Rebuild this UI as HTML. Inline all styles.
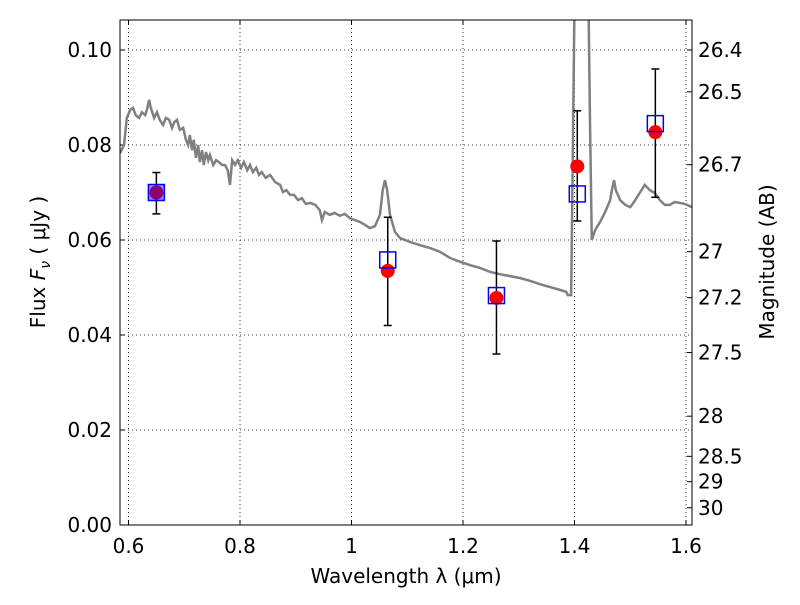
<!DOCTYPE html>
<html><head><meta charset="utf-8"><style>
body{margin:0;background:#fff}
svg text{font-family:"DejaVu Sans","Liberation Sans",sans-serif;fill:#000}
</style></head><body>
<svg id="chart" width="800" height="600" xmlns="http://www.w3.org/2000/svg"></svg>
<script>
const xTicks=[0.6,0.8,1.0,1.2,1.4,1.6];
const xTickLabels=["0.6","0.8","1","1.2","1.4","1.6"];
const yTicks=[0,0.02,0.04,0.06,0.08,0.10];
const yTickLabels=["0.00","0.02","0.04","0.06","0.08","0.10"];
const magTicks=[26.4,26.5,26.7,27,27.2,27.5,28,28.5,29,30];
const wavelengths=[0.65,1.065,1.26,1.405,1.545];
const fluxObs=[0.0700,0.0535,0.0478,0.0755,0.0827];
const errLow=[0.0655,0.042,0.036,0.064,0.069];
const errHigh=[0.0742,0.0648,0.0598,0.0872,0.096];
const fluxModel=[0.0700,0.0558,0.0483,0.0697,0.0845];
const specLam=[
0.585,0.592,0.597,0.603,0.608,0.613,0.619,0.624,0.630,0.633,
0.637,0.640,0.646,0.651,0.656,0.662,0.667,0.673,0.678,0.682,
0.687,0.692,0.698,0.703,0.707,0.710,0.714,0.717,0.721,0.725,
0.728,0.732,0.735,0.739,0.743,0.746,0.752,0.757,0.762,0.768,
0.773,0.778,0.782,0.786,0.791,0.796,0.802,0.807,0.813,0.818,
0.823,0.829,0.834,0.839,0.846,0.854,0.863,0.872,0.877,0.883,
0.890,0.897,0.904,0.911,0.918,0.926,0.935,0.943,0.947,0.952,
0.961,0.970,0.979,0.988,0.997,1.006,1.015,1.024,1.033,1.042,
1.051,1.056,1.060,1.064,1.069,1.078,1.087,1.105,1.123,1.141,
1.159,1.177,1.195,1.213,1.231,1.248,1.266,1.284,1.302,1.320,
1.338,1.356,1.374,1.385,1.388,1.394,1.397,1.401,1.424,1.428,
1.431,1.437,1.446,1.455,1.464,1.467,1.471,1.474,1.482,1.491,
1.500,1.509,1.518,1.526,1.535,1.544,1.553,1.562,1.571,1.580,
1.589,1.598,1.611];
const specFlux=[
0.0783,0.0800,0.0857,0.0874,0.0878,0.0863,0.0857,0.0869,0.0863,0.0874,
0.0895,0.0878,0.0857,0.0869,0.0853,0.0842,0.0857,0.0853,0.0836,0.0848,
0.0853,0.0832,0.0836,0.0811,0.0800,0.0821,0.0789,0.0811,0.0773,0.0800,
0.0764,0.0789,0.0758,0.0785,0.0768,0.0779,0.0758,0.0768,0.0764,0.0758,
0.0758,0.0747,0.0716,0.0768,0.0758,0.0768,0.0752,0.0764,0.0747,0.0758,
0.0743,0.0752,0.0737,0.0743,0.0731,0.0737,0.0722,0.0716,0.0701,0.0705,
0.0695,0.0695,0.0684,0.0688,0.0676,0.0678,0.0674,0.0663,0.0642,0.0659,
0.0653,0.0657,0.0651,0.0655,0.0646,0.0642,0.0638,0.0632,0.0625,0.0629,
0.0653,0.0705,0.0726,0.0705,0.0653,0.0617,0.0604,0.0596,0.0589,0.0583,
0.0575,0.0562,0.0554,0.0547,0.0541,0.0533,0.0528,0.0524,0.0520,0.0514,
0.0507,0.0501,0.0495,0.0491,0.0484,0.0484,0.0789,0.1200,0.1200,0.0832,
0.0600,0.0621,0.0638,0.0659,0.0684,0.0705,0.0726,0.0705,0.0684,0.0674,
0.0669,0.0684,0.0701,0.0716,0.0705,0.0699,0.0684,0.0674,0.0674,0.0680,
0.0678,0.0676,0.0669];
const L=120,R=692,T=20,B=525;
const X=v=>128.5+(v-0.6)*557.5;
const Y=v=>525-v*4750;
const svg=document.getElementById('chart');
const NS='http://www.w3.org/2000/svg';
function el(t,a,p){const e=document.createElementNS(NS,t);for(const k in a)e.setAttribute(k,a[k]);(p||svg).appendChild(e);return e;}
const clip=el('clipPath',{id:'pc'});el('rect',{x:L,y:T,width:R-L,height:B-T},clip);
xTicks.forEach((v,i)=>{
 const g=el('line',{x1:X(v),x2:X(v),y1:T,y2:B,stroke:'#000','stroke-dasharray':'1,3','stroke-width':0.8});
 
 const t=el('text',{x:X(v),y:553,'font-size':20,'text-anchor':'middle'});t.textContent=xTickLabels[i];
 
 el('line',{x1:X(v),x2:X(v),y1:B,y2:B-5,stroke:'#000'});el('line',{x1:X(v),x2:X(v),y1:T,y2:T+5,stroke:'#000'});
});
yTicks.forEach((v,i)=>{
 const g=el('line',{x1:L,x2:R,y1:Y(v),y2:Y(v),stroke:'#000','stroke-dasharray':'1,3','stroke-width':0.8});
 
 const t=el('text',{x:112,y:Y(v)+7,'font-size':20,'text-anchor':'end'});t.textContent=yTickLabels[i];
 
 el('line',{x1:L,x2:L+5,y1:Y(v),y2:Y(v),stroke:'#000'});
});
magTicks.forEach(m=>{
 const f=Math.pow(10,(23.9-m)/2.5);const y=Y(f);
 el('line',{x1:R,x2:R-5,y1:y,y2:y,stroke:'#000'});
 const t=el('text',{x:698,y:y+7,'font-size':20});t.textContent=String(m);
 
});
const sp=el('polyline',{points:specLam.map((l,i)=>X(l)+','+Y(specFlux[i])).join(' '),fill:'none',stroke:'#808080','stroke-width':2.5,'clip-path':'url(#pc)'});

wavelengths.forEach((w,i)=>{
 const x=X(w);
 const e=el('path',{d:`M${x},${Y(errLow[i])}V${Y(errHigh[i])}M${x-4},${Y(errLow[i])}h8M${x-4},${Y(errHigh[i])}h8`,stroke:'#000','stroke-width':1.5,fill:'none'});
 
 const c=el('circle',{cx:x,cy:Y(fluxObs[i]),r:7,fill:'red'});
 
 const s=el('rect',{x:x-8,y:Y(fluxModel[i])-8,width:16,height:16,fill:i==0?'rgba(0,0,255,0.45)':'none',stroke:'blue','stroke-width':1.5});
 
});
const fr=el('rect',{x:L,y:T,width:R-L,height:B-T,fill:'none',stroke:'#000','stroke-width':1});

const xl=el('text',{x:406,y:583,'font-size':20,'text-anchor':'middle'});xl.textContent='Wavelength  λ (μm)';

const yl=el('text',{x:0,y:0,'font-size':20,'text-anchor':'middle',transform:'translate(45,262) rotate(-90)'});yl.innerHTML='Flux  <tspan font-style="italic">F</tspan><tspan font-size="14" dy="5" font-style="italic">ν</tspan><tspan dy="-5">  ( μJy )</tspan>';

const ml=el('text',{x:0,y:0,'font-size':20,'text-anchor':'middle',transform:'translate(774,262) rotate(-90)'});ml.textContent='Magnitude (AB)';

</script>
</body></html>
